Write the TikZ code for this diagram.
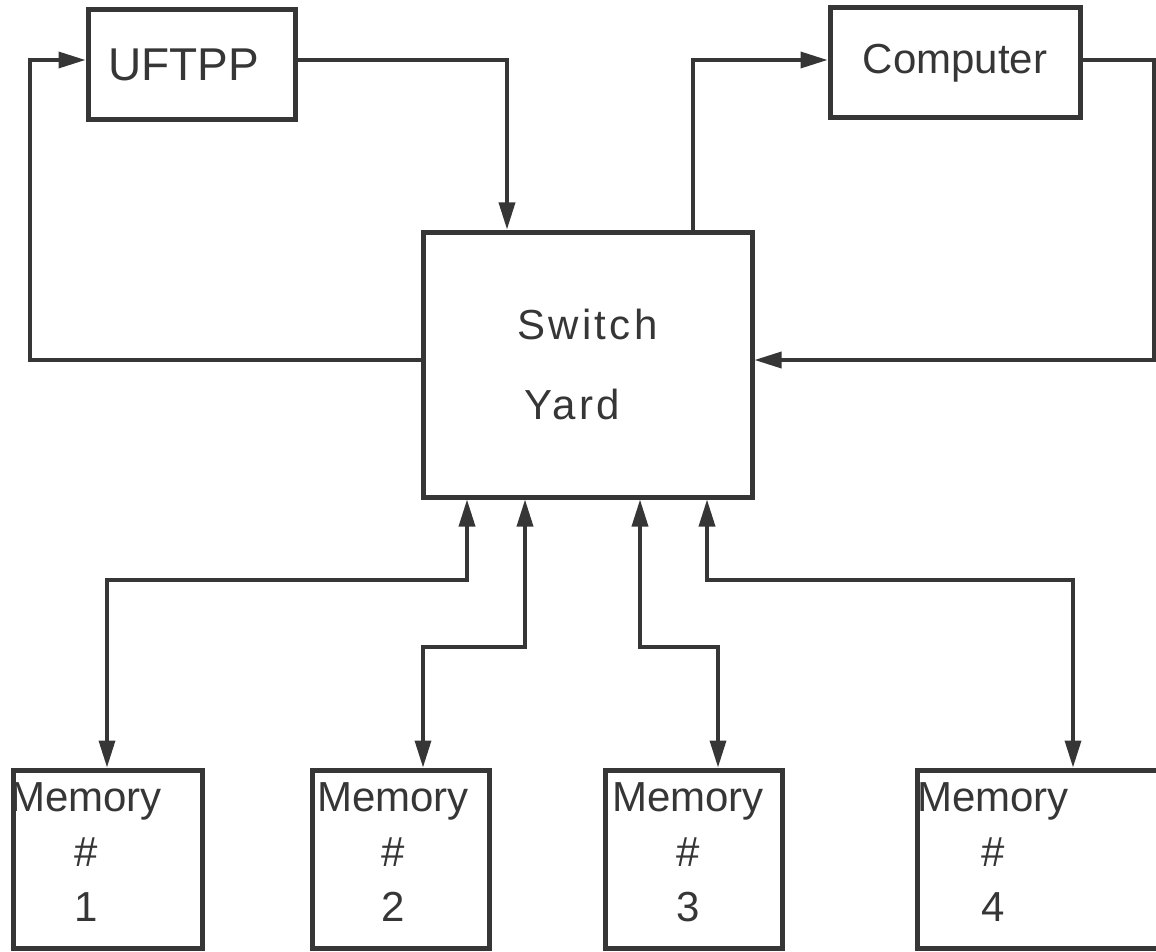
\documentclass[tikz,border=0pt]{standalone}
\usepackage{fontspec}
\setmainfont{Liberation Sans}
\usetikzlibrary{arrows.meta}
\definecolor{inkc}{HTML}{363636}
\begin{document}
\begin{tikzpicture}[x=1pt,y=-1pt]
\tikzset{
  blockbox/.style={draw=inkc, line width=5pt, rectangle, inner sep=0pt, text=inkc},
  wire/.style={draw=inkc, line width=3.5pt},
  tip/.style={-{Triangle[length=27pt,width=16pt]}},
  tips/.style={{Triangle[length=27pt,width=16pt]}-{Triangle[length=27pt,width=16pt]}},
  labeltext/.style={text=inkc, font=\fontsize{42}{55}\selectfont, align=center, inner sep=0pt}
}
\useasboundingbox (0,0) rectangle (1156,952);
\clip (0,0) rectangle (1156,952);

% processing units
\node[blockbox, minimum width=207pt, minimum height=110pt,
      font=\fontsize{46}{50}\selectfont] (uftpp) at (191.5,65) {UFTPP\hspace*{16pt}};
\node[blockbox, minimum width=250pt, minimum height=110pt,
      font=\fontsize{42}{50}\selectfont] (comp) at (955,63) {Computer};
\node[blockbox, minimum width=329pt, minimum height=265pt, align=center,
      font=\fontsize{42}{80}\selectfont\addfontfeatures{LetterSpace=8}] (sy) at (587.5,364.5)
      {Switch\\Yard\hspace*{30pt}};

% memory banks
\node[blockbox, minimum width=189pt, minimum height=178pt] (m1) at (107.5,859) {};
\node[blockbox, minimum width=177pt, minimum height=178pt] (m2) at (401,859) {};
\node[blockbox, minimum width=177pt, minimum height=178pt] (m3) at (693.5,859) {};
\node[blockbox, minimum width=273pt, minimum height=178pt] (m4) at (1053.5,859) {};
\node[labeltext] (m1t) at (86,852) {Memory\\\#\\1};
\node[labeltext] (m2t) at (393,852) {Memory\\\#\\2};
\node[labeltext] (m3t) at (688,852) {Memory\\\#\\3};
\node[labeltext] (m4t) at (993,852) {Memory\\\#\\4};

% loop corners
\coordinate (lc) at (30,60);
\coordinate (lb) at (30,360);
\coordinate (tu) at (507,60);
\coordinate (tc) at (693,60);
\coordinate (rt) at (1154,60);
\coordinate (rb) at (1154,360);

\draw[wire,tip] (sy.west |- lb) -- (lb) -- (lc) -- (uftpp.west |- lc);
\draw[wire,tip] (uftpp.east |- tu) -- (tu) -- (sy.north -| tu);
\draw[wire,tip] (sy.north -| tc) -- (tc) -- (comp.west |- tc);
\draw[wire,tip] (comp.east |- rt) -- (rt) -- (rb) -- (sy.east |- rb);

% memory buses
\coordinate (b1) at (467,580);  \coordinate (b1m) at (107,580);
\coordinate (b2) at (525,647);  \coordinate (b2m) at (423,647);
\coordinate (b3) at (640,647);  \coordinate (b3m) at (718,647);
\coordinate (b4) at (707,580);  \coordinate (b4m) at (1073,580);

\draw[wire,tips] (sy.south -| b1) -- (b1) -- (b1m) -- (m1.north -| b1m);
\draw[wire,tips] (sy.south -| b2) -- (b2) -- (b2m) -- (m2.north -| b2m);
\draw[wire,tips] (sy.south -| b3) -- (b3) -- (b3m) -- (m3.north -| b3m);
\draw[wire,tips] (sy.south -| b4) -- (b4) -- (b4m) -- (m4.north -| b4m);
\end{tikzpicture}
\end{document}
